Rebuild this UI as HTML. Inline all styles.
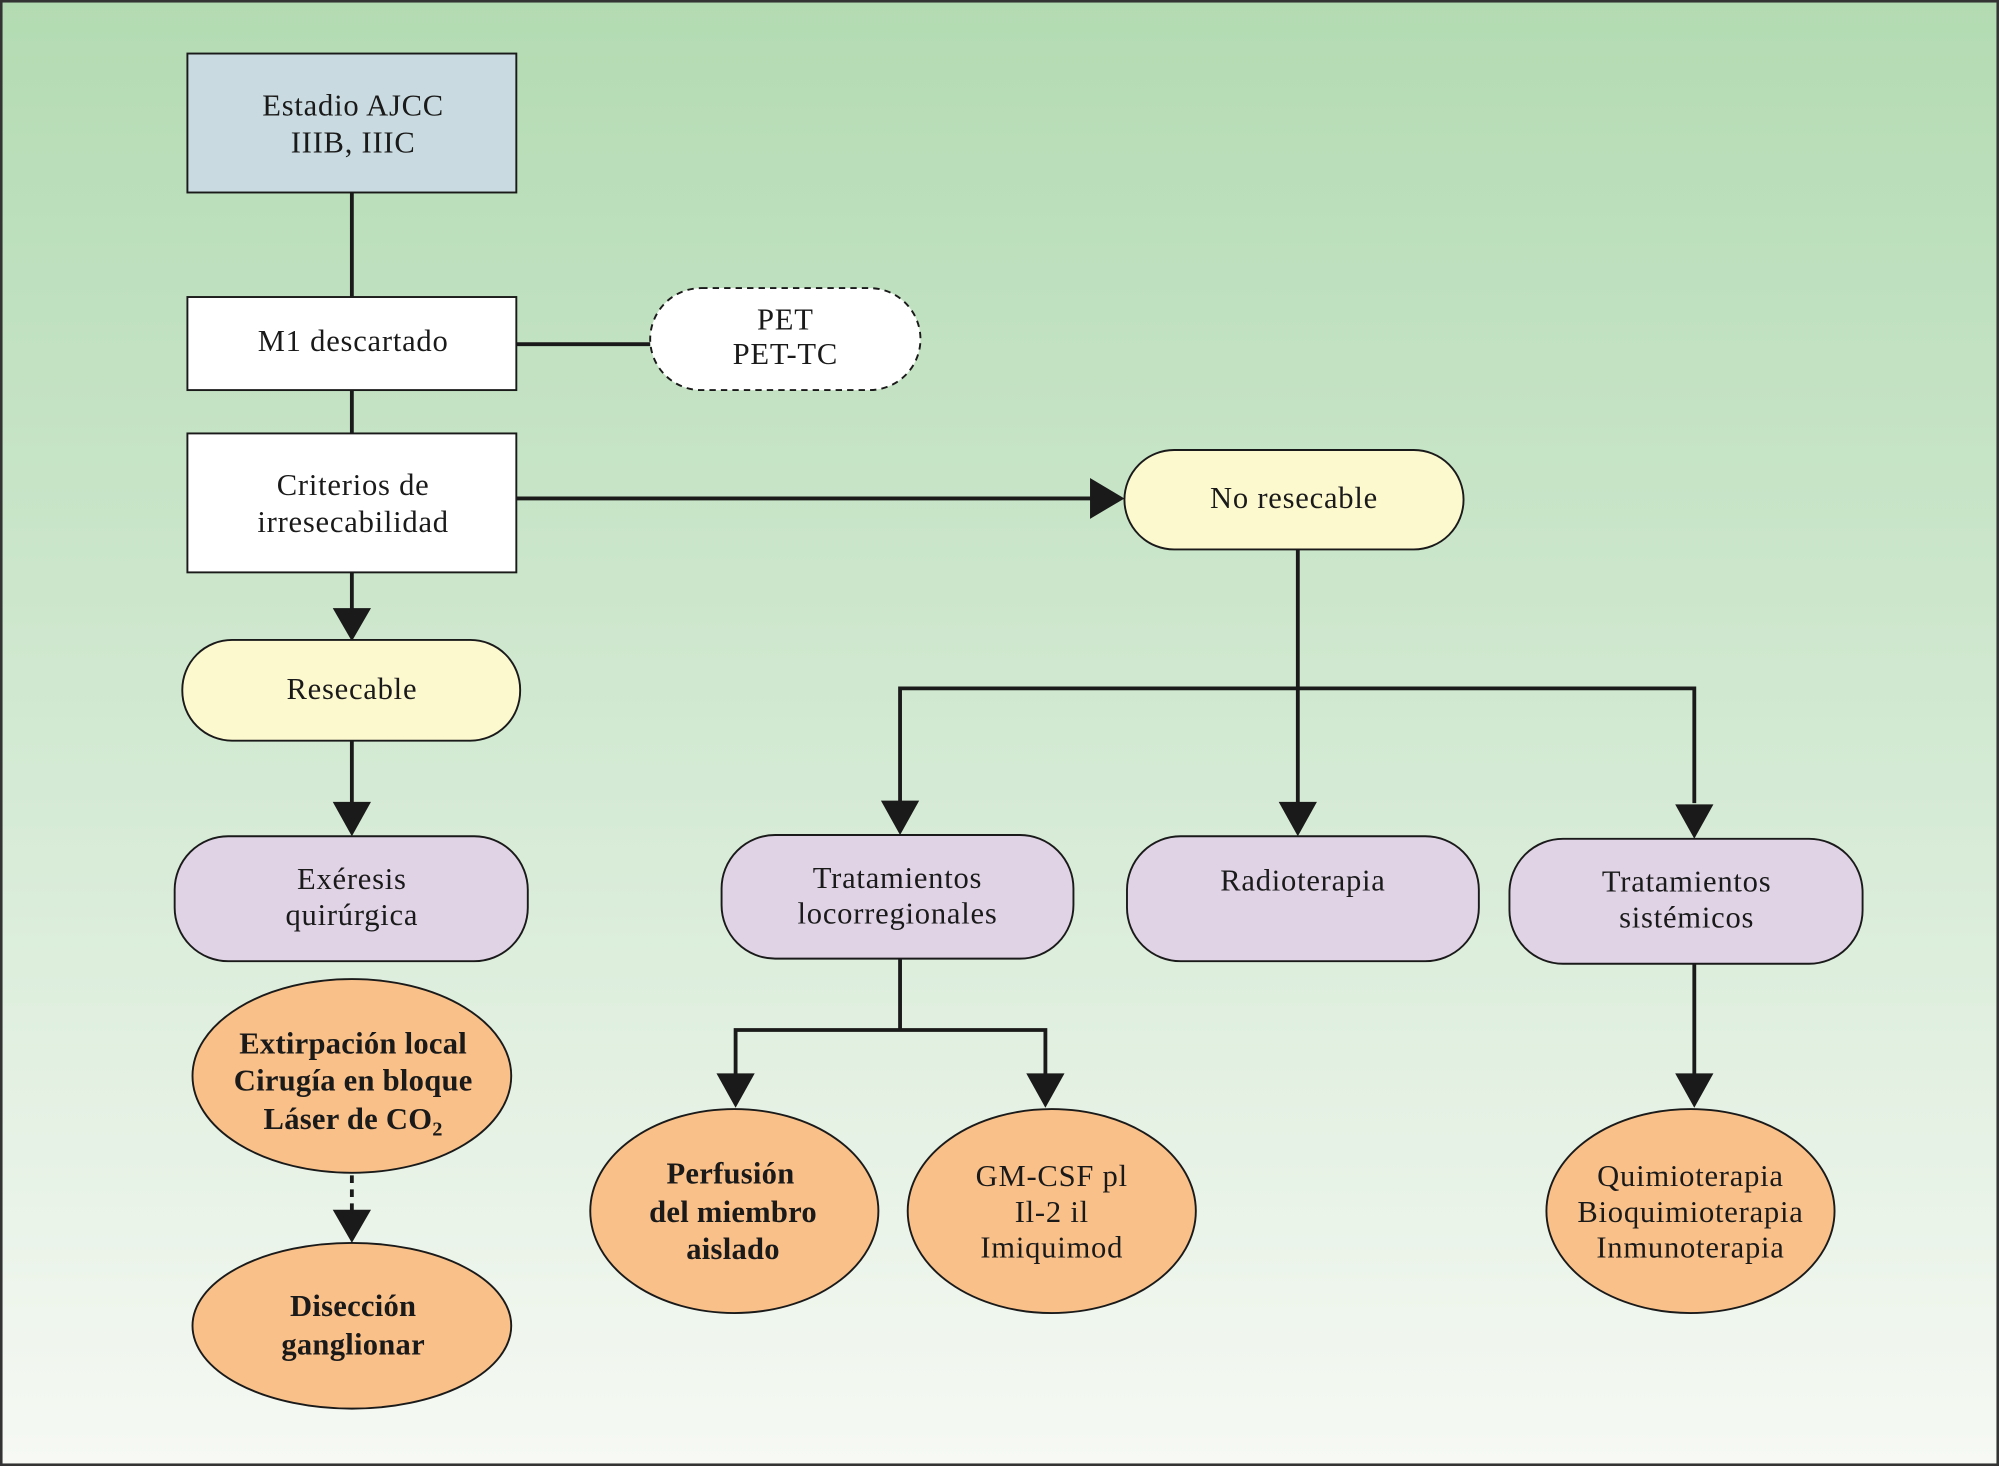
<!DOCTYPE html>
<html><head><meta charset="utf-8"><style>
html,body{margin:0;padding:0;width:1999px;height:1466px;overflow:hidden;background:#fff}
svg{display:block}
text{font-family:"Liberation Serif",serif;font-size:24px;fill:#1a1a1a;text-anchor:middle;dominant-baseline:middle;letter-spacing:0.6px}
.b{font-weight:bold;letter-spacing:0.2px}
</style></head><body>
<svg width="1999" height="1466" viewBox="0 0 1568 1150" preserveAspectRatio="none" xmlns="http://www.w3.org/2000/svg">
<defs>
<linearGradient id="bg" x1="0" y1="0" x2="0" y2="1">
<stop offset="0" stop-color="#b3dbb2"/><stop offset="0.5" stop-color="#d2e9d2"/><stop offset="1" stop-color="#f6f9f4"/>
</linearGradient>
</defs>
<rect x="1" y="1" width="1566" height="1148" fill="url(#bg)" stroke="#333" stroke-width="2"/>
<g stroke="#1a1a1a" stroke-width="3" fill="none">
<line x1="276" y1="151" x2="276" y2="233"/>
<line x1="405" y1="270" x2="510" y2="270"/>
<line x1="276" y1="306" x2="276" y2="340"/>
<line x1="405" y1="391" x2="856" y2="391"/>
<line x1="276" y1="449" x2="276" y2="478"/>
<line x1="276" y1="581" x2="276" y2="630"/>
<line x1="1018" y1="431" x2="1018" y2="540"/>
<polyline points="706,630 706,540 1329,540 1329,630"/>
<line x1="1018" y1="540" x2="1018" y2="630"/>
<polyline points="577,843 577,808 820,808 820,843"/>
<line x1="706" y1="752" x2="706" y2="808"/>
<line x1="1329" y1="756" x2="1329" y2="843"/>
<line x1="276" y1="922" x2="276" y2="950" stroke-dasharray="6,5"/>
</g>
<g fill="#1a1a1a">
<path d="M855,375 L882,391 L855,407z"/>
<path d="M261,477 L276,503 L291,477z"/>
<path d="M261,629 L276,656 L291,629z"/>
<path d="M691,628 L706,655 L721,628z"/>
<path d="M1003,629 L1018,656 L1033,629z"/>
<path d="M1314,631 L1329,658 L1344,631z"/>
<path d="M562,842 L577,869 L592,842z"/>
<path d="M805,842 L820,869 L835,842z"/>
<path d="M1314,842 L1329,869 L1344,842z"/>
<path d="M261,949 L276,975 L291,949z"/>
</g>
<g stroke="#1a1a1a" stroke-width="1.5">
<rect x="147" y="42" width="258" height="109" fill="#c9dbe0"/>
<rect x="147" y="233" width="258" height="73" fill="#fff"/>
<rect x="510" y="226" width="212" height="80" rx="40" fill="#fff" stroke-dasharray="5,4"/>
<rect x="147" y="340" width="258" height="109" fill="#fff"/>
<rect x="882" y="353" width="266" height="78" rx="39" fill="#fdf9cf"/>
<rect x="143" y="502" width="265" height="79" rx="39" fill="#fdf9cf"/>
<rect x="137" y="656" width="277" height="98" rx="42" fill="#e0d3e6"/>
<rect x="566" y="655" width="276" height="97" rx="42" fill="#e0d3e6"/>
<rect x="884" y="656" width="276" height="98" rx="42" fill="#e0d3e6"/>
<rect x="1184" y="658" width="277" height="98" rx="42" fill="#e0d3e6"/>
<ellipse cx="276" cy="844" rx="125" ry="76" fill="#f9c089"/>
<ellipse cx="276" cy="1040" rx="125" ry="65" fill="#f9c089"/>
<ellipse cx="576" cy="950" rx="113" ry="80" fill="#f9c089"/>
<ellipse cx="825" cy="950" rx="113" ry="80" fill="#f9c089"/>
<ellipse cx="1326" cy="950" rx="113" ry="80" fill="#f9c089"/>
</g>
<text x="277" y="85">Estadio AJCC</text>
<text x="277" y="114">IIIB, IIIC</text>
<text x="277" y="270">M1 descartado</text>
<text x="616" y="253">PET</text>
<text x="616" y="280">PET-TC</text>
<text x="277" y="383">Criterios de</text>
<text x="277" y="412">irresecabilidad</text>
<text x="1015" y="393">No resecable</text>
<text x="276" y="543">Resecable</text>
<text x="276" y="692">Exéresis</text>
<text x="276" y="720">quirúrgica</text>
<text x="704" y="691">Tratamientos</text>
<text x="704" y="719">locorregionales</text>
<text x="1022" y="693">Radioterapia</text>
<text x="1323" y="694">Tratamientos</text>
<text x="1323" y="722">sistémicos</text>
<text class="b" x="277" y="821">Extirpación local</text>
<text class="b" x="277" y="850">Cirugía en bloque</text>
<text class="b" x="277" y="880">Láser de CO<tspan dy="7" style="font-size:16px">2</tspan></text>
<text class="b" x="277" y="1027">Disección</text>
<text class="b" x="277" y="1057">ganglionar</text>
<text class="b" x="573" y="923">Perfusión</text>
<text class="b" x="575" y="953">del miembro</text>
<text class="b" x="575" y="982">aislado</text>
<text x="825" y="925">GM-CSF pl</text>
<text x="825" y="953">Il-2 il</text>
<text x="825" y="981">Imiquimod</text>
<text x="1326" y="925">Quimioterapia</text>
<text x="1326" y="953">Bioquimioterapia</text>
<text x="1326" y="981">Inmunoterapia</text>
</svg>
</body></html>
